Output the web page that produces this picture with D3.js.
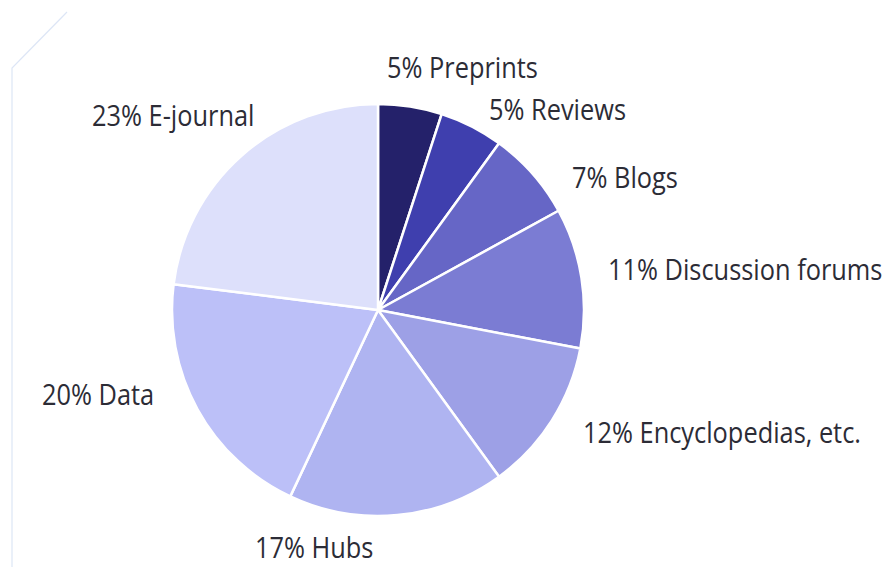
<!DOCTYPE html>
<html>
<head>
<meta charset="utf-8">
<script src="https://cdn.jsdelivr.net/npm/d3@7/dist/d3.min.js"></script>
<style>
  html, body { margin: 0; padding: 0; background: #ffffff; }
  svg { display: block; }
</style>
</head>
<body>
<svg id="chart" width="890" height="567"></svg>
<script>
// ---- Data ----
const categories = ["Preprints", "Reviews", "Blogs", "Discussion forums", "Encyclopedias, etc.", "Hubs", "Data", "E-journal"];
const values = [5, 5, 7, 11, 12, 17, 20, 23];
const colors = ["#24216a", "#3f3fae", "#6666c6", "#7b7cd3", "#9da0e6", "#afb4f1", "#bcc0f8", "#dde0fb"];

// ---- Layout (label anchor positions: left x, baseline y) ----
const labelPos = {
  "Preprints": [387, 78],
  "Reviews": [489, 120],
  "Blogs": [572, 188],
  "Discussion forums": [608, 280],
  "Encyclopedias, etc.": [583, 443],
  "Hubs": [255, 558],
  "Data": [42, 405],
  "E-journal": [92, 126]
};

const svg = d3.select("#chart");
const cx = 378, cy = 310, r = 206;

// faint frame line at top-left
svg.append("path")
  .attr("d", "M67,12 L12,68 L12,567")
  .attr("fill", "none")
  .attr("stroke", "#dde6f6")
  .attr("stroke-width", 1.2);

const data = categories.map((c, i) => ({ cat: c, value: values[i], color: colors[i] }));

const pie = d3.pie().value(d => d.value).sort(null).startAngle(0).endAngle(2 * Math.PI);
const arc = d3.arc().innerRadius(0).outerRadius(r);

const g = svg.append("g").attr("transform", `translate(${cx},${cy})`);
g.selectAll("path.slice")
  .data(pie(data))
  .join("path")
  .attr("class", "slice")
  .attr("d", arc)
  .attr("fill", d => d.data.color)
  .attr("stroke", "#ffffff")
  .attr("stroke-width", 2.5)
  .attr("stroke-linejoin", "round");

const fmt = d => `${d.value}% ${d.cat}`;
const xScale = 0.875;
svg.selectAll("text.lbl")
  .data(data)
  .join("text")
  .attr("class", "lbl")
  .attr("transform", d => `translate(${labelPos[d.cat][0]},${labelPos[d.cat][1]}) scale(${xScale},1)`)
  .attr("font-family", "'Open Sans', sans-serif")
  .attr("font-size", 29)
  .attr("fill", "#2c2c36")
  .text(fmt);
</script>
</body>
</html>
